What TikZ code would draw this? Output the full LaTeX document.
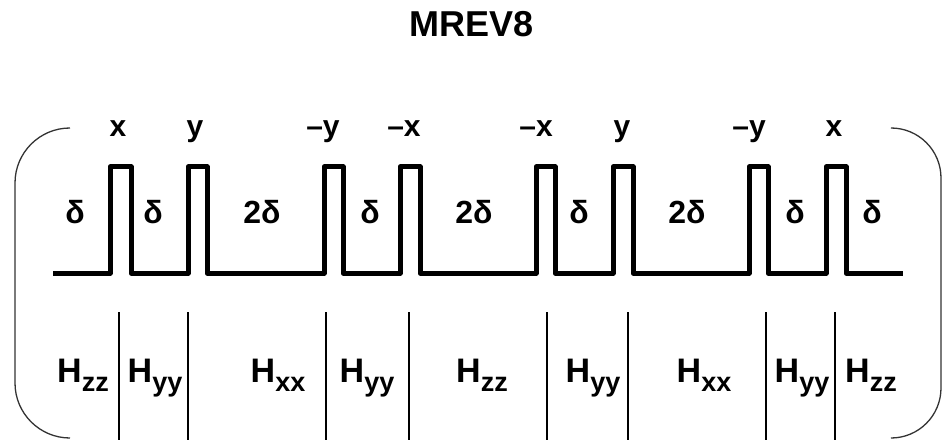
\documentclass[tikz,border=0pt]{standalone}
\usepackage{fontspec}
\setmainfont{Liberation Sans}
\begin{document}
\begin{tikzpicture}[x=1pt,y=-1pt,
  pulse/.style={line width=5pt,line join=round,line cap=butt},
  divider/.style={line width=1.2pt},
  bracket/.style={line width=1.3pt,draw=black!80},
  phase/.style={font=\fontsize{30}{30}\selectfont\bfseries,anchor=base},
  delay/.style={font=\fontsize{32}{32}\selectfont\bfseries,anchor=base},
  ham/.style={anchor=base,inner sep=0pt},
  title/.style={font=\fontsize{36}{36}\selectfont\bfseries,anchor=base}]
\useasboundingbox (0,0) rectangle (943,441);
\newcommand{\Hlab}[1]{{\fontsize{34}{34}\selectfont\bfseries H}\raisebox{-9pt}{\fontsize{27}{27}\selectfont\bfseries #1}}
% title
\node[title] (title) at (472,37) {MREV8};
% brackets
\draw[bracket,rounded corners=55pt] (70,128) -- (15,128) -- (15,438) -- (70,438);
\draw[bracket,rounded corners=50pt] (893,128) -- (941,128) -- (941,438) -- (893,438);
% pulse train
\draw[pulse] (53,273)
  -- (110,273) -- (110,167) -- (131,167) -- (131,273)
  -- (188,273) -- (188,167) -- (207,167) -- (207,273)
  -- (324,273) -- (324,167) -- (343,167) -- (343,273)
  -- (400,273) -- (400,167) -- (420,167) -- (420,273)
  -- (536,273) -- (536,167) -- (555,167) -- (555,273)
  -- (613,273) -- (613,167) -- (633,167) -- (633,273)
  -- (749,273) -- (749,167) -- (768,167) -- (768,273)
  -- (826,273) -- (826,167) -- (846,167) -- (846,273)
  -- (903,273);
% phase labels
\node[phase] (p1) at (118,137) {x};
\node[phase] (p2) at (195,137) {y};
\node[phase] (p3) at (323,137) {\textendash y};
\node[phase] (p4) at (404,137) {\textendash x};
\node[phase] (p5) at (536,137) {\textendash x};
\node[phase] (p6) at (622,137) {y};
\node[phase] (p7) at (749,137) {\textendash y};
\node[phase] (p8) at (834,137) {x};
% delay labels
\node[delay] (d1) at (75,223) {δ};
\node[delay] (d2) at (153,223) {δ};
\node[delay] (d3) at (262,223) {2δ};
\node[delay] (d4) at (370,223) {δ};
\node[delay] (d5) at (474,223) {2δ};
\node[delay] (d6) at (579,223) {δ};
\node[delay] (d7) at (687,223) {2δ};
\node[delay] (d8) at (795,223) {δ};
\node[delay] (d9) at (872,223) {δ};
% dividers
\foreach \xx [count=\i] in {119,188,326,409,547,628,766,835}{
  \coordinate (vt\i) at (\xx,312);
  \coordinate (vb\i) at (\xx,440);
  \draw[divider] (vt\i) -- (vb\i);
}
% Hamiltonian labels
\node[ham] (h1) at (83,382) {\Hlab{zz}};
\node[ham] (h2) at (155,382) {\Hlab{yy}};
\node[ham] (h3) at (278,382) {\Hlab{xx}};
\node[ham] (h4) at (367,382) {\Hlab{yy}};
\node[ham] (h5) at (482,382) {\Hlab{zz}};
\node[ham] (h6) at (593,382) {\Hlab{yy}};
\node[ham] (h7) at (704,382) {\Hlab{xx}};
\node[ham] (h8) at (802,382) {\Hlab{yy}};
\node[ham] (h9) at (871,382) {\Hlab{zz}};
\end{tikzpicture}
\end{document}
